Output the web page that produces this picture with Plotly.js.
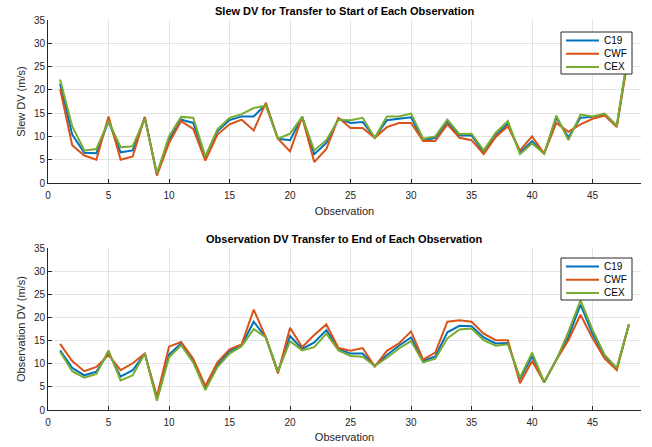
<!DOCTYPE html>
<html>
<head>
<meta charset="utf-8">
<script src="https://cdn.plot.ly/plotly-3.0.1.min.js"></script>
<style>html,body{margin:0;padding:0;background:#fff;}#chart{width:652px;height:447px;}</style>
</head>
<body>
<div id="chart"></div>
<script>
const observations = Array.from({length: 48}, (_, i) => i + 1);
const seriesNames = ['C19', 'CWF', 'CEX'];
const seriesColors = ['#0072BD', '#D95319', '#77AC30'];

const slewC19 = [21.3,10.4,6.5,6.4,13.3,6.6,7.0,14.1,1.9,9.3,13.6,12.9,5.2,11.1,13.5,14.3,14.3,16.9,9.5,9.2,14.2,6.2,8.6,13.8,
  12.9,13.1,9.7,13.5,13.8,14.1,9.1,9.7,13.1,10.2,10.2,6.6,10.2,12.8,6.5,9.0,6.3,14.0,9.8,14.0,14.2,14.7,12.3,28.5];
const slewCWF = [20.2,8.1,5.9,5.0,14.3,5.0,5.7,14.2,1.6,8.6,13.3,11.6,4.8,10.4,12.6,13.6,11.3,17.2,9.5,6.8,14.2,4.5,7.3,14.0,
  11.8,11.8,9.7,12.0,12.9,12.9,9.0,9.0,12.6,9.7,9.2,6.2,9.9,12.2,7.0,10.0,6.3,12.9,11.0,12.6,13.8,14.5,12.0,28.0];
const slewCEX = [22.2,12.2,7.0,7.3,13.3,7.7,7.9,13.8,2.1,10.0,14.2,14.0,5.7,11.5,14.0,14.8,16.1,16.6,9.5,10.6,14.2,7.0,9.2,13.6,
  13.5,14.0,9.7,14.3,14.3,14.9,9.5,10.0,13.6,10.5,10.6,7.0,10.8,13.3,6.2,8.5,6.3,14.5,9.2,14.7,14.3,14.9,12.3,29.0];

const obsC19 = [12.9,9.1,7.5,8.3,12.4,7.2,8.6,12.2,2.4,12.0,14.4,10.6,4.7,9.7,12.7,14.0,19.1,15.7,8.3,16.0,13.2,14.6,17.3,13.2,
  12.2,12.2,9.5,11.9,13.9,15.7,10.6,11.6,16.8,18.2,18.1,15.7,14.4,14.5,6.7,11.6,6.0,10.8,15.8,22.8,16.5,11.6,9.0,18.5];
const obsCWF = [14.3,10.6,8.4,9.3,11.9,8.6,10.1,12.2,2.9,13.7,14.7,11.1,5.2,10.3,13.1,14.2,21.7,15.7,7.9,17.8,13.6,16.2,18.5,13.4,
  12.8,13.4,9.4,12.8,14.4,17.0,10.9,12.4,19.1,19.4,19.1,16.5,15.1,15.1,5.8,10.6,6.0,10.8,15.1,20.6,15.5,11.1,8.6,18.5];
const obsCEX = [12.6,8.4,7.0,7.8,12.9,6.4,7.5,12.2,2.0,11.4,14.0,10.3,4.3,9.3,12.2,13.8,17.5,15.7,8.3,14.9,12.9,13.6,16.5,12.9,
  11.7,11.5,9.5,11.3,13.3,14.9,10.3,11.1,15.5,17.4,17.6,15.1,13.9,14.2,7.0,12.4,6.0,10.8,16.9,23.7,17.3,11.9,9.1,18.5];

const slewData = [slewC19, slewCWF, slewCEX];
const obsData = [obsC19, obsCWF, obsCEX];

const traces = [];
slewData.forEach((vals, k) => traces.push({
  x: observations, y: vals, type: 'scatter', mode: 'lines', name: seriesNames[k],
  line: {color: seriesColors[k], width: 2}, xaxis: 'x', yaxis: 'y', showlegend: false
}));
obsData.forEach((vals, k) => traces.push({
  x: observations, y: vals, type: 'scatter', mode: 'lines', name: seriesNames[k],
  line: {color: seriesColors[k], width: 2}, xaxis: 'x2', yaxis: 'y2', showlegend: false
}));

const W = 652, H = 447;
const M = {l: 48, r: 11, t: 20, b: 37};
const PW = W - M.l - M.r, PH = H - M.t - M.b;
const px2x = p => (p - M.l) / PW;
const px2y = p => (H - M.b - p) / PH;

const fam = 'Liberation Sans, Arial, sans-serif';
const axisCommon = {
  showline: true, linecolor: '#262626', linewidth: 1, mirror: false,
  ticks: 'inside', ticklen: 4, tickcolor: '#262626', tickwidth: 1,
  showgrid: true, gridcolor: '#e3e3e3', gridwidth: 1, zeroline: false,
  tickfont: {family: fam, size: 10, color: '#262626'}
};
const xCommon = Object.assign({}, axisCommon, {range: [0, 49], tickvals: [0,5,10,15,20,25,30,35,40,45], ticklabelstandoff: 3});
const yCommon = Object.assign({}, axisCommon, {range: [0, 35], tickvals: [0,5,10,15,20,25,30,35]});
const titleFont = {family: fam, size: 11, color: '#262626'};

// custom MATLAB-style legends
const shapes = [];
const annotations = [];
function addLegend(offsetPx) {
  shapes.push({type: 'rect', xref: 'paper', yref: 'paper', layer: 'above',
    x0: px2x(561), x1: px2x(632), y0: px2y(32 + offsetPx), y1: px2y(74 + offsetPx),
    fillcolor: '#ffffff', line: {color: '#262626', width: 1}});
  seriesNames.forEach((nm, k) => {
    const yc = 40.5 + 13.2 * k + offsetPx;
    shapes.push({type: 'line', xref: 'paper', yref: 'paper', layer: 'above',
      x0: px2x(566), x1: px2x(599), y0: px2y(yc), y1: px2y(yc),
      line: {color: seriesColors[k], width: 2}});
    annotations.push({text: nm, xref: 'paper', yref: 'paper', x: px2x(602), y: px2y(yc),
      xanchor: 'left', yanchor: 'middle', showarrow: false,
      font: {family: fam, size: 10, color: '#000'}});
  });
}
addLegend(0);
addLegend(226);

annotations.push(
  {text: '<b>Slew DV for Transfer to Start of Each Observation</b>', xref: 'paper', yref: 'paper',
   x: 0.5, y: 1, yshift: 1, xanchor: 'center', yanchor: 'bottom', showarrow: false,
   font: {family: fam, size: 11, color: '#000'}},
  {text: '<b>Observation DV Transfer to End of Each Observation</b>', xref: 'paper', yref: 'paper',
   x: 0.5, y: 0.415, yshift: 1, xanchor: 'center', yanchor: 'bottom', showarrow: false,
   font: {family: fam, size: 11, color: '#000'}}
);

const layout = {
  width: W, height: H,
  margin: M,
  paper_bgcolor: '#ffffff', plot_bgcolor: '#ffffff',
  font: {family: fam, size: 10, color: '#262626'},
  showlegend: false,
  xaxis: Object.assign({}, xCommon, {domain: [0, 1], anchor: 'y',
    title: {text: 'Observation', font: titleFont, standoff: 7}}),
  yaxis: Object.assign({}, yCommon, {domain: [0.582, 1], anchor: 'x',
    title: {text: 'Slew DV (m/s)', font: titleFont, standoff: 6}}),
  xaxis2: Object.assign({}, xCommon, {domain: [0, 1], anchor: 'y2',
    title: {text: 'Observation', font: titleFont, standoff: 6}}),
  yaxis2: Object.assign({}, yCommon, {domain: [0, 0.415], anchor: 'x2',
    title: {text: 'Observation DV (m/s)', font: titleFont, standoff: 6}}),
  shapes: shapes,
  annotations: annotations
};

Plotly.newPlot('chart', traces, layout, {displayModeBar: false, staticPlot: true});
</script>
</body>
</html>
